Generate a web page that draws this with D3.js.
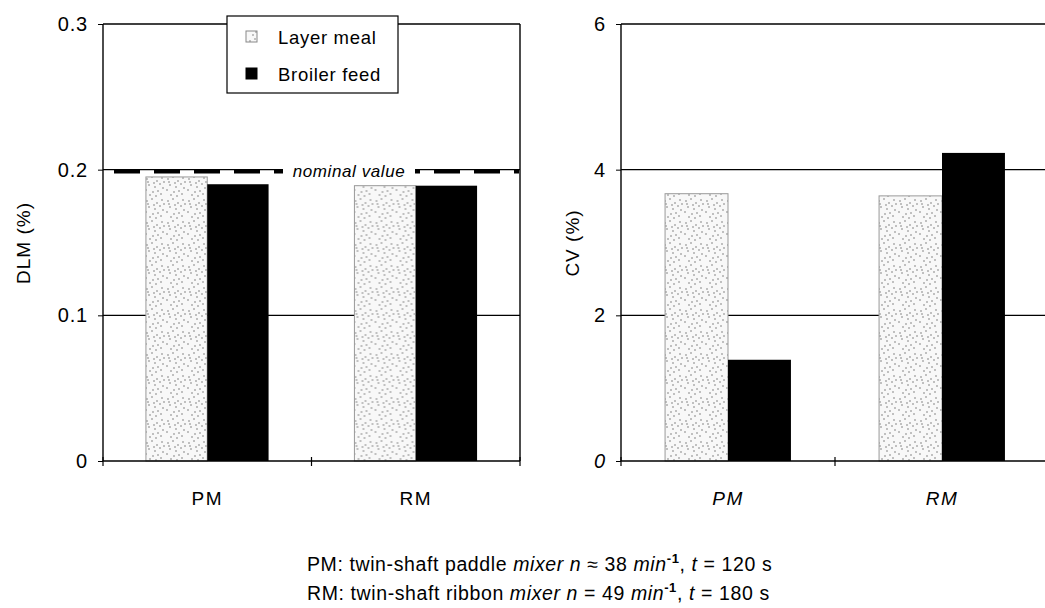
<!DOCTYPE html>
<html>
<head>
<meta charset="utf-8">
<script src="https://cdn.jsdelivr.net/npm/d3@7"></script>
<style>
  body { margin: 0; background: #fff; }
  svg { display: block; font-family: "Liberation Sans", Arial, sans-serif; }
</style>
</head>
<body>
<svg id="chart" width="1045" height="608"></svg>
<script>
// data
const mixers = ['PM', 'RM'];
const series = ['Layer meal', 'Broiler feed'];
const dlmLayer = [0.195, 0.189];
const dlmBroiler = [0.190, 0.189];
const cvLayer = [3.67, 3.64];
const cvBroiler = [1.39, 4.23];
const dlmTicks = [0, 0.1, 0.2, 0.3];
const cvTicks = [0, 2, 4, 6];
const nominalDLM = 0.2;

const svg = d3.select('#chart');

// stipple texture for the layer meal bars
const specks = [[2,3],[7,1],[12,5],[17,2],[4,9],[10,11],[15,8],[1,14],[8,16],[13,15],[18,12],[5,19],[11,20],[16,18],[3,6],[19,6],[9,7]];
const pat = svg.append('defs').append('pattern')
  .attr('id', 'stipple').attr('patternUnits', 'userSpaceOnUse')
  .attr('width', 21).attr('height', 22);
pat.append('rect').attr('width', 21).attr('height', 22).attr('fill', '#f8f8f8');
pat.selectAll('circle').data(specks).enter().append('circle')
  .attr('cx', d => d[0]).attr('cy', d => d[1]).attr('r', 0.8).attr('fill', '#7a7a7a');

function panel(opts) {
  const g = svg.append('g');
  const x = d3.scaleBand().domain(mixers).range(opts.xRange);
  const xs = d3.scaleBand().domain(series).range([0, x.bandwidth()]).paddingOuter(0.7);
  const y = d3.scaleLinear().domain(opts.yDomain).range([461, 24]);

  // gridlines
  g.selectAll('.grid').data(opts.ticks.slice(1)).enter().append('line')
    .attr('x1', opts.xRange[0]).attr('x2', opts.xRange[1])
    .attr('y1', d => y(d)).attr('y2', d => y(d))
    .attr('stroke', '#000').attr('stroke-width', 1.4);

  // right border
  g.append('line').attr('x1', opts.xRange[1]).attr('x2', opts.xRange[1])
    .attr('y1', y.range()[0]).attr('y2', y.range()[1])
    .attr('stroke', '#000').attr('stroke-width', 1.4);

  // bars
  const groups = g.selectAll('.bar-group').data(mixers).enter().append('g')
    .attr('transform', d => `translate(${x(d)},0)`);
  groups.append('rect')
    .attr('x', xs('Layer meal')).attr('width', xs.bandwidth())
    .attr('y', (d, i) => y(opts.layer[i])).attr('height', (d, i) => y(0) - y(opts.layer[i]))
    .attr('fill', 'url(#stipple)').attr('stroke', '#999').attr('stroke-width', 1);
  groups.append('rect')
    .attr('x', xs('Broiler feed')).attr('width', xs.bandwidth())
    .attr('y', (d, i) => y(opts.broiler[i])).attr('height', (d, i) => y(0) - y(opts.broiler[i]))
    .attr('fill', '#000');

  // axes
  const yAxis = d3.axisLeft(y).tickValues(opts.ticks).tickSize(5).tickPadding(10)
    .tickFormat(opts.fmt);
  const yNode = g.append('g').attr('transform', `translate(${opts.xRange[0]},0)`).call(yAxis);
  yNode.select('.domain').attr('stroke-width', 1.4).attr('d', `M0,${y.range()[0]}V${y.range()[1]}`);
  yNode.selectAll('.tick text').style('font-size', '20px').style('letter-spacing', '0.8px').attr('fill', '#000')
    .style('font-style', opts.italicZero ? (d => d === 0 ? 'italic' : 'normal') : 'normal');

  const xAxis = d3.axisBottom(x).tickSize(0).tickPadding(31);
  const xNode = g.append('g').attr('transform', `translate(0,${y(0)})`).call(xAxis);
  xNode.select('.domain').attr('stroke-width', 1.4).attr('d', `M${opts.xRange[0]},0H${opts.xRange[1]}`);
  xNode.selectAll('.tick text').style('font-size', '19px').style('letter-spacing', '1.5px')
    .style('font-style', opts.italicX ? 'italic' : 'normal').attr('fill', '#000');
  // category separator ticks
  g.selectAll('.xsep').data([x.range()[0], x('RM'), x.range()[1]]).enter().append('line')
    .attr('x1', d => d).attr('x2', d => d)
    .attr('y1', y(0) - 4).attr('y2', y(0) + 5)
    .attr('stroke', '#000').attr('stroke-width', 1.2);

  // axis title
  g.append('text')
    .attr('transform', `translate(${opts.titleX},243) rotate(-90)`)
    .attr('text-anchor', 'middle').style('font-size', '19px').style('letter-spacing', '1px')
    .text(opts.title);

  return { g, x, y };
}

const left = panel({
  xRange: [103, 520], yDomain: [0, 0.3], ticks: dlmTicks,
  layer: dlmLayer, broiler: dlmBroiler, fmt: d => d === 0 ? '0' : d3.format('.1f')(d),
  title: 'DLM (%)', titleX: 30
});
panel({
  xRange: [621, 1049], yDomain: [0, 6], ticks: cvTicks,
  layer: cvLayer, broiler: cvBroiler, fmt: d3.format('d'),
  title: 'CV (%)', titleX: 579, italicZero: true, italicX: true
});

// nominal value line
const ny = left.y(nominalDLM) + 2;
left.g.append('line')
  .attr('x1', 104).attr('x2', 519).attr('y1', ny).attr('y2', ny)
  .attr('stroke', '#000').attr('stroke-width', 3.5).attr('stroke-dasharray', '26,14')
  .attr('stroke-dashoffset', -10);
left.g.append('rect').attr('x', 283).attr('y', ny - 11).attr('width', 132).attr('height', 19).attr('fill', '#fff');
left.g.append('text').attr('x', 349).attr('y', ny + 5).attr('text-anchor', 'middle')
  .style('font-size', '17px').style('font-style', 'italic').style('letter-spacing', '0.6px')
  .text('nominal value');

// legend
const leg = svg.append('g').attr('transform', 'translate(227,16)');
leg.append('rect').attr('width', 171).attr('height', 77).attr('fill', '#fff')
  .attr('stroke', '#000').attr('stroke-width', 1.2);
const legItems = leg.selectAll('.item').data(series).enter().append('g')
  .attr('transform', (d, i) => `translate(0,${i * 37})`);
legItems.append('rect').attr('x', 19).attr('y', 15).attr('width', 11).attr('height', 11)
  .attr('fill', (d, i) => i === 0 ? 'url(#stipple)' : '#000')
  .attr('stroke', (d, i) => i === 0 ? '#888' : '#000');
legItems.append('text').attr('x', 51).attr('y', 28)
  .style('font-size', '18.5px').style('letter-spacing', '0.7px').text(d => d);

// footnote
const notes = [
  { head: 'PM: twin-shaft paddle ', n: '38', t: '120' },
  { head: 'RM: twin-shaft ribbon ', n: '49', t: '180' }
];
const note = svg.append('g').style('font-size', '19.5px').style('letter-spacing', '0.6px');
notes.forEach((d, i) => {
  const t = note.append('text').attr('x', 307).attr('y', 571 + i * 29);
  t.append('tspan').text(d.head);
  t.append('tspan').style('font-style', 'italic').text('mixer n');
  t.append('tspan').text(i === 0 ? ' \u2248 ' + d.n + ' ' : ' = ' + d.n + ' ');
  t.append('tspan').style('font-style', 'italic').text('min');
  t.append('tspan').attr('dy', -8).style('font-size', '13px').style('font-weight', 'bold').text('-1');
  t.append('tspan').attr('dy', 8).text(', ');
  t.append('tspan').style('font-style', 'italic').text('t');
  t.append('tspan').text(' = ' + d.t + ' s');
});
</script>
</body>
</html>
